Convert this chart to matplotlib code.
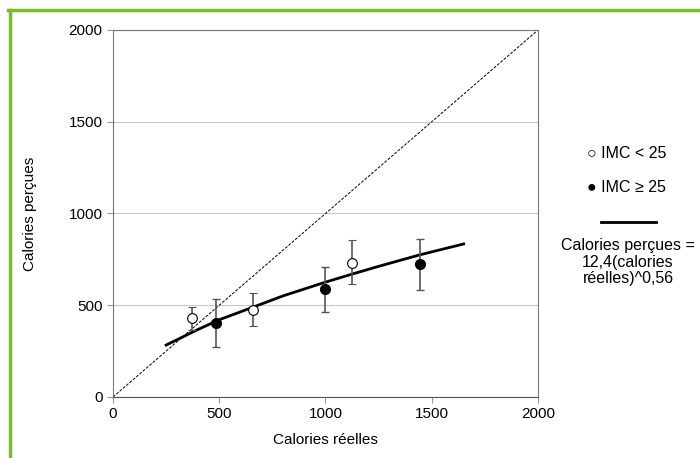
import matplotlib
matplotlib.use("Agg")
import matplotlib.pyplot as plt
from matplotlib.lines import Line2D

plt.rcParams['font.family'] = ['Liberation Sans', 'DejaVu Sans']

# IMC < 25 (cercles vides)
x_low = [372, 660, 1126]
y_low = [430, 474, 732]
err_low_hi = [492, 568, 856]
err_low_lo = [365, 387, 614]

# IMC >= 25 (cercles pleins)
x_high = [485, 998, 1445]
y_high = [405, 589, 723]
err_high_hi = [532, 707, 861]
err_high_lo = [271, 465, 583]

# courbe de tendance
x_fit = [250, 400, 500, 660, 800, 1000, 1126, 1250, 1445, 1650]
y_fit = [283, 368, 421, 490, 551, 626, 670, 712, 775, 834]

fig = plt.figure(figsize=(7, 4.58), dpi=100)
ax = fig.add_axes([113 / 700, 61 / 458, 425 / 700, 367 / 458])

ax.plot([0, 2000], [0, 2000], color='black', lw=0.7, ls=(0, (3, 1.5)))
ax.plot(x_fit, y_fit, color='black', lw=2, zorder=3)

yerr_low = [[y - lo for y, lo in zip(y_low, err_low_lo)],
            [hi - y for y, hi in zip(y_low, err_low_hi)]]
yerr_high = [[y - lo for y, lo in zip(y_high, err_high_lo)],
             [hi - y for y, hi in zip(y_high, err_high_hi)]]
ax.errorbar(x_low, y_low, yerr=yerr_low, fmt='o', mfc='white', mec='black',
            ms=7, mew=0.8, ecolor='#555555', elinewidth=1.2, capsize=3, zorder=4)
ax.errorbar(x_high, y_high, yerr=yerr_high, fmt='o', mfc='black', mec='black',
            ms=7, ecolor='#555555', elinewidth=1.2, capsize=3, zorder=4)

ax.set_xlim(0, 2000)
ax.set_ylim(0, 2000)
ax.set_xticks([0, 500, 1000, 1500, 2000])
ax.set_yticks([0, 500, 1000, 1500, 2000])
ax.yaxis.grid(True, color='#c8c8c8', lw=0.8)
ax.set_axisbelow(True)
for s in ax.spines.values():
    s.set_color('#777777')
ax.spines['bottom'].set_color('#555555')
ax.tick_params(direction='out', length=4, color='#999999', labelsize=11)
ax.set_xlabel('Calories réelles', fontsize=11, labelpad=8)
ax.set_ylabel('Calories perçues', fontsize=11, labelpad=23)

# légende à droite
fig.text(587 / 700, 1 - 153 / 458, '○ IMC < 25', fontsize=11.5, va='center', ha='left')
fig.text(587 / 700, 1 - 187 / 458, '● IMC ≥ 25', fontsize=11.5, va='center', ha='left')
fig.add_artist(Line2D([601 / 700, 656 / 700], [1 - 222 / 458, 1 - 222 / 458],
                      color='black', lw=2))
fig.text(628 / 700, 1 - 262 / 458, 'Calories perçues =\n12,4(calories\nréelles)^0,56',
         fontsize=11.5, ha='center', va='center', linespacing=1.12)

# cadre vert
green = '#7cbb2a'
fig.add_artist(Line2D([9.5 / 700, 9.5 / 700], [0, 1 - 9.5 / 458], color=green, lw=2.5))
fig.add_artist(Line2D([8.3 / 700, 1], [1 - 9.5 / 458, 1 - 9.5 / 458], color=green, lw=2.5))

fig.savefig('out.png', dpi=100)
